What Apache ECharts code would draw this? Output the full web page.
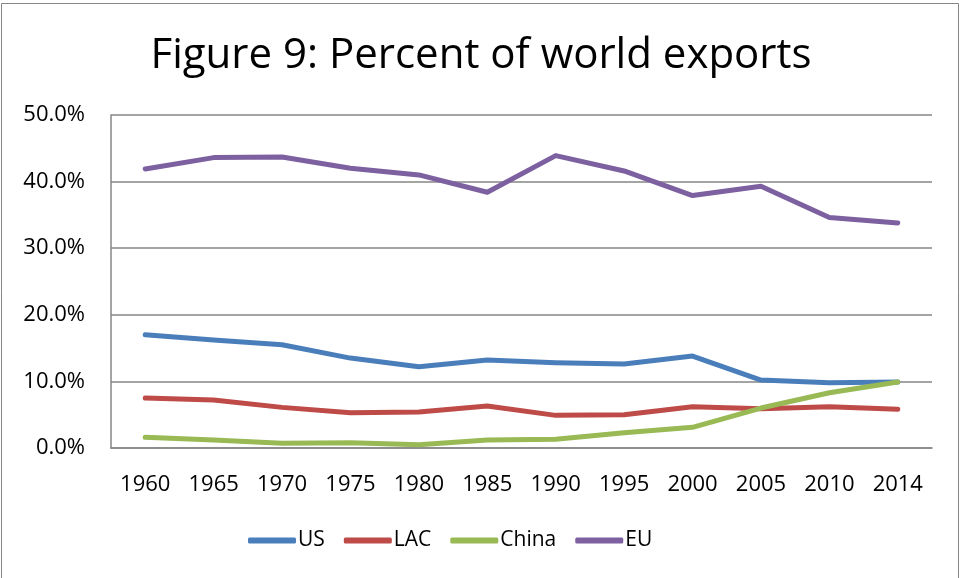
<!DOCTYPE html>
<html><head><meta charset="utf-8">
<script src="https://cdn.jsdelivr.net/npm/echarts@6/dist/echarts.min.js"></script>
<style>html,body{margin:0;padding:0;background:#fff}#c{width:962px;height:578px}</style>
</head><body><div id="c"></div>
<script>
const years = ['1960','1965','1970','1975','1980','1985','1990','1995','2000','2005','2010','2014'];
const us    = [17.0,16.2,15.5,13.5,12.2,13.2,12.8,12.6,13.8,10.2,9.8,9.9];
const lac   = [7.5,7.2,6.1,5.3,5.4,6.3,4.9,5.0,6.2,5.9,6.2,5.8];
const china = [1.6,1.2,0.7,0.8,0.5,1.2,1.3,2.3,3.1,6.0,8.3,9.9];
const eu    = [41.9,43.6,43.7,42.0,41.0,38.4,43.9,41.6,37.9,39.3,34.6,33.8];
const yTicks = [0,10,20,30,40,50];
const fontFam = '"Open Sans", "Noto Sans", sans-serif';
const mk = (name, data, color) => ({
  name, type:'line', data, symbol:'none', color,
  lineStyle:{width:5, color, cap:'round', join:'round'}
});
const chart = echarts.init(document.getElementById('c'), null, {renderer:'canvas'});
chart.setOption({
  animation:false,
  backgroundColor:'#fff',
  graphic:[{type:'rect', shape:{x:1.5,y:3.5,width:957,height:580}, style:{fill:'none', stroke:'#868686', lineWidth:1}}],
  title:{text:'Figure 9: Percent of world exports', left:'center', top:30,
    textStyle:{fontFamily:fontFam, fontSize:42, fontWeight:'normal', color:'#000'}},
  grid:{left:111, right:30, top:115, bottom:130},
  legend:{bottom:22, left:243, itemWidth:48, itemHeight:6, itemGap:19,
    icon:'roundRect',
    textStyle:{fontFamily:fontFam, fontSize:21, color:'#000', padding:[0,0,0,-3]},
    data:['US','LAC','China','EU']},
  xAxis:{type:'category', data:years, boundaryGap:true,
    axisLine:{show:true, lineStyle:{color:'#868686', width:1.5}},
    axisTick:{show:false},
    axisLabel:{fontFamily:fontFam, fontSize:22, color:'#000', margin:26}},
  yAxis:{type:'value', min:yTicks[0], max:yTicks[yTicks.length-1], interval:10,
    axisLine:{show:true, lineStyle:{color:'#868686', width:1.5}},
    axisTick:{show:false},
    splitLine:{lineStyle:{color:'#868686', width:1.5}},
    axisLabel:{fontFamily:fontFam, fontSize:22, color:'#000', margin:26,
      formatter:v=>v.toFixed(1)+'%'}},
  series:[mk('US',us,'#4A7EBB'), mk('LAC',lac,'#BE4B48'), mk('China',china,'#98B954'), mk('EU',eu,'#7D60A0')]
});
</script></body></html>
